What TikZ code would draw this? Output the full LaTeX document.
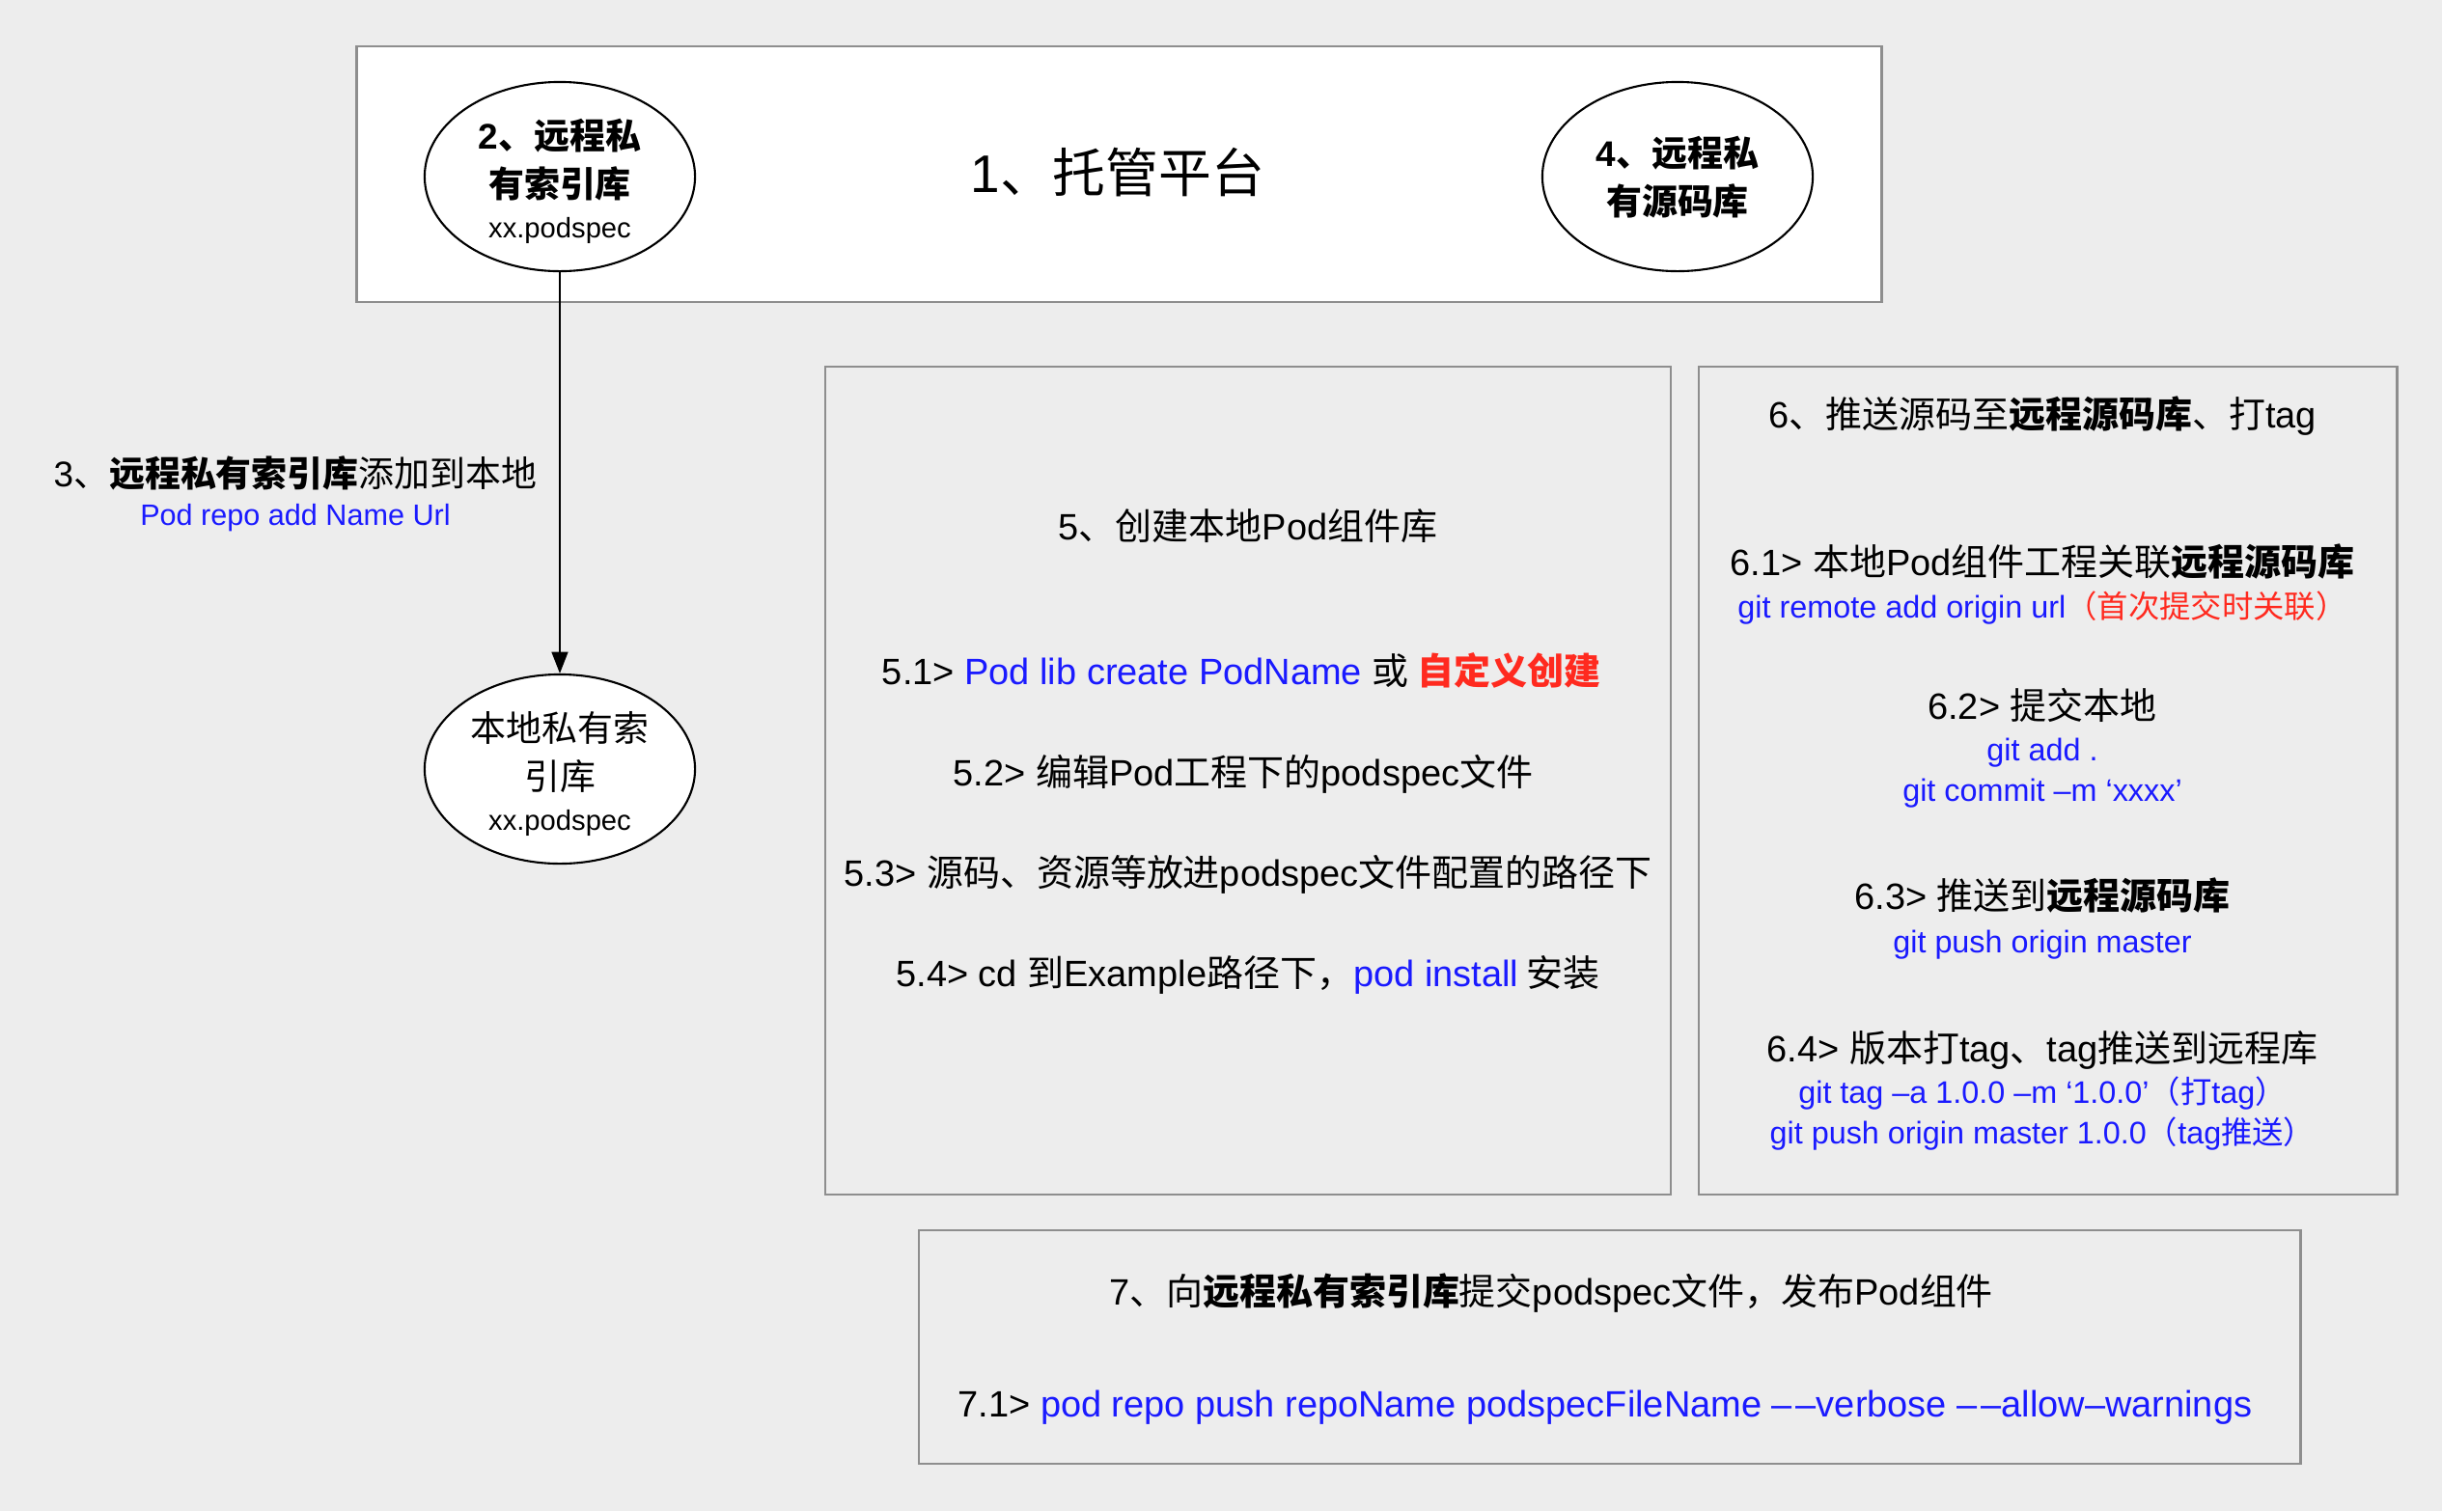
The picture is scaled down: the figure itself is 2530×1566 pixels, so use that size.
\documentclass[tikz,border=0pt]{standalone}
\usepackage{fontspec}
\setmainfont{Liberation Sans}
\newfontfamily\latfont{Liberation Sans}
\newfontfamily\cjkfont{Noto Sans CJK SC}
\usetikzlibrary{arrows.meta,shapes.geometric}

% switch to the CJK font for Chinese characters
\XeTeXinterchartokenstate=1
\newXeTeXintercharclass\cjkclass
\newcount\cjkcode
\def\setcjkrange#1#2{\cjkcode=#1\relax
  \loop\XeTeXcharclass\cjkcode=\cjkclass
    \advance\cjkcode by 1
  \ifnum\cjkcode<#2\repeat}
\setcjkrange{"3000}{"3040}
\setcjkrange{"4E00}{"A000}
\setcjkrange{"FF00}{"FFF0}
\XeTeXinterchartoks 0 \cjkclass = {\cjkfont}
\XeTeXinterchartoks 4095 \cjkclass = {\cjkfont}
\XeTeXinterchartoks \cjkclass 0 = {\latfont}
\XeTeXinterchartoks 4095 0 = {\latfont}

\definecolor{bgcol}{HTML}{EDEDED}
\definecolor{framecol}{HTML}{8E8E8E}
\definecolor{cmdblue}{HTML}{1A1AFF}
\definecolor{markred}{HTML}{FF2A1F}

\newcommand\ddash{–\kern0.1em–}

\begin{document}
\begin{tikzpicture}[x=0.01cm,y=-0.01cm,
  panel/.style={draw=framecol,line width=0.6pt,inner sep=0pt},
  repo/.style={draw,ellipse,line width=0.6pt,fill=white,minimum width=2.8cm,minimum height=1.96cm,inner sep=0pt},
  repotxt/.style={align=center,inner sep=0pt},
  linetxt/.style={inner sep=0pt,text height=8pt,text depth=2pt},
  txt/.style={linetxt,yshift=-1.1pt,font=\fontsize{10.8pt}{13pt}\selectfont},
  cmd/.style={linetxt,yshift=-0.45pt,text=cmdblue,font=\fontsize{9.2pt}{11pt}\selectfont}]

  \fill[bgcol] (0,0) rectangle (2530,1566);
  \useasboundingbox (0,0) rectangle (2530,1566);

  % hosting platform
  \node[panel,fill=white,minimum width=15.79cm,minimum height=2.65cm] (host) at (1159.5,180.5) {};
  \node[inner sep=0pt,font=\fontsize{15.6pt}{18pt}\selectfont] (hosttxt) at (1158,179) {1、托管平台};

  \node[repo] (specrepo) at (580,183) {};
  \node[repotxt,font=\bfseries\fontsize{10.5pt}{14.2pt}\selectfont] (spectxt) at (580,188)
    {2、远程私\\有索引库\\[-2.3pt]{\mdseries\fontsize{8.3pt}{10pt}\selectfont xx.podspec}};

  \node[repo] (coderepo) at (1738,183) {};
  \node[repotxt,font=\bfseries\fontsize{10.5pt}{14.2pt}\selectfont] (codetxt) at (1738,184)
    {4、远程私\\有源码库};

  % local index
  \node[repo] (localrepo) at (580,797) {};
  \node[repotxt,font=\fontsize{10.5pt}{14.2pt}\selectfont] (localtxt) at (580,802)
    {本地私有索\\引库\\[-2.3pt]{\fontsize{8.3pt}{10pt}\selectfont xx.podspec}};

  \draw[line width=0.45pt,-{Triangle[length=6.3pt,width=4.8pt]}] (specrepo) -- (localrepo);

  \node[txt,font=\fontsize{10.5pt}{13pt}\selectfont] (addtxt) at (306,490) {3、\textbf{远程私有索引库}添加到本地};
  \node[cmd,font=\fontsize{8.7pt}{10pt}\selectfont] (addcmd) at (306,532) {Pod repo add Name Url};

  % create pod
  \node[panel,minimum width=8.76cm,minimum height=8.57cm] (create) at (1293,809) {};
  \node[txt] (s5) at (1293,545) {5、创建本地Pod组件库};
  \node[txt] (s51) at (1286,695) {5.1> \textcolor{cmdblue}{Pod lib create PodName} 或 \textcolor{markred}{\bfseries 自定义创建}};
  \node[txt] (s52) at (1288,800) {5.2> 编辑Pod工程下的podspec文件};
  \node[txt] (s53) at (1293,904) {5.3> 源码、资源等放进podspec文件配置的路径下};
  \node[txt] (s54) at (1293,1008) {5.4> cd 到Example路径下，\textcolor{cmdblue}{pod install} 安装};

  % push source
  \node[panel,minimum width=7.23cm,minimum height=8.57cm] (push) at (2121.8,809) {};
  \node[txt] (s6) at (2116,429) {6、推送源码至\textbf{远程源码库}、打tag};
  \node[txt] (s61) at (2116,582) {6.1> 本地Pod组件工程关联\textbf{远程源码库}};
  \node[cmd] (s61cmd) at (2116,628) {git remote add origin url\textcolor{markred}{（首次提交时关联）}};
  \node[txt] (s62) at (2116,731) {6.2> 提交本地};
  \node[cmd] (s62add) at (2116,776) {git add .};
  \node[cmd] (s62commit) at (2116,818) {git commit –m ‘xxxx’};
  \node[txt] (s63) at (2116,928) {6.3> 推送到\textbf{远程源码库}};
  \node[cmd] (s63cmd) at (2116,975) {git push origin master};
  \node[txt] (s64) at (2116,1086) {6.4> 版本打tag、tag推送到远程库};
  \node[cmd] (s64tag) at (2116,1131) {git tag –a 1.0.0 –m ‘1.0.0’（打tag）};
  \node[cmd] (s64push) at (2116,1173) {git push origin master 1.0.0（tag推送）};

  % publish
  \node[panel,minimum width=14.31cm,minimum height=2.42cm] (publish) at (1667.5,1395.7) {};
  \node[txt] (s7) at (1607,1338) {7、向\textbf{远程私有索引库}提交podspec文件，发布Pod组件};
  \node[txt] (s71) at (1663,1454) {7.1> \textcolor{cmdblue}{pod repo push repoName podspecFileName \ddash verbose \ddash allow–warnings}};

\end{tikzpicture}
\end{document}
